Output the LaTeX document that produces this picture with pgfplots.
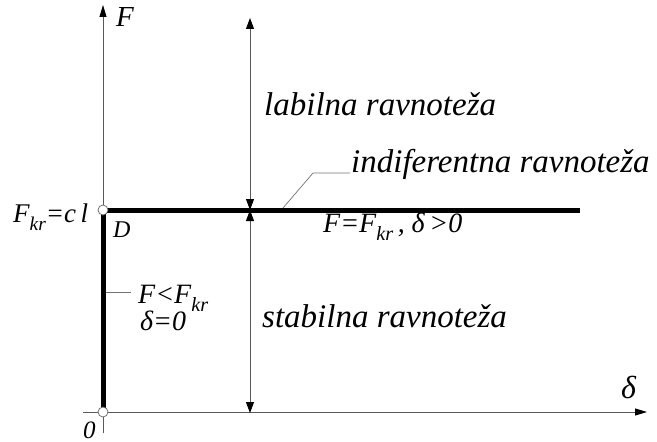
\documentclass[border=0pt]{standalone}
\usepackage{pgfplots}
\pgfplotsset{compat=1.18}
\usepackage{fontspec}
\setmainfont{Liberation Serif}
\usetikzlibrary{arrows.meta}
\newcommand{\sub}[1]{\raisebox{-0.3em}{\fontsize{0.72em}{1em}\selectfont #1}}
\begin{document}
\begin{tikzpicture}
\begin{axis}[width=657bp, height=442bp, scale only axis,
  xmin=0, xmax=657, ymin=0, ymax=442, y dir=reverse,
  hide axis, clip=false]
\addplot[draw=none] coordinates {(0,0) (657,442)};
% axes
\addplot[line width=0.9bp, black!65, -{Triangle[length=12bp,width=7bp,black]}] coordinates {(103,433) (103,5)};
\addplot[line width=0.9bp, black!65, -{Triangle[length=12bp,width=7bp,black]}] coordinates {(83,412) (647,412)};
% double arrows
\addplot[line width=0.8bp, black!65, {Triangle[length=11bp,width=8bp,black]}-{Triangle[length=11bp,width=8bp,black]}] coordinates {(250,18) (250,210)};
\addplot[line width=0.8bp, black!65, {Triangle[length=11bp,width=8bp,black]}-{Triangle[length=11bp,width=8bp,black]}] coordinates {(250,210) (250,413)};
% leaders
\addplot[line width=0.7bp, black!55] coordinates {(283,208) (313,173) (350,173)};
\addplot[line width=0.7bp, black!55] coordinates {(105,292) (131,292)};
% thick path
\addplot[line width=5bp, black, line join=miter, line cap=butt] coordinates {(103,412) (103,210) (580,210)};
% circles
\addplot[only marks, mark=*, mark size=5bp, mark options={fill=white, draw=black!60, line width=0.7bp}] coordinates {(103,412) (103,210)};
\end{axis}
\begin{axis}[width=657bp, height=442bp, scale only axis,
  xmin=0, xmax=657, ymin=0, ymax=442, y dir=reverse,
  hide axis, clip=false]
\addplot[draw=none] coordinates {(0,0) (657,442)};
\node[anchor=base west, inner sep=0pt, font=\fontsize{33bp}{38bp}\selectfont\itshape] at (axis cs:264,115) {labilna ravnoteža};
\node[anchor=base west, inner sep=0pt, font=\fontsize{33bp}{38bp}\selectfont\itshape] at (axis cs:351,172) {indiferentna ravnoteža};
\node[anchor=base west, inner sep=0pt, font=\fontsize{33bp}{38bp}\selectfont\itshape] at (axis cs:262,327) {stabilna ravnoteža};
\node[anchor=base west, inner sep=0pt, font=\fontsize{28bp}{30bp}\selectfont\itshape] at (axis cs:323,232) {F=F\sub{kr}\,, δ\,>0};
\node[anchor=base west, inner sep=0pt, font=\fontsize{28bp}{30bp}\selectfont\itshape] at (axis cs:138,303) {F<F\sub{kr}};
\node[anchor=base west, inner sep=0pt, font=\fontsize{28bp}{30bp}\selectfont\itshape] at (axis cs:140,330) {δ=0};
\node[anchor=base west, inner sep=0pt, font=\fontsize{27bp}{30bp}\selectfont\itshape] at (axis cs:13,222) {F\sub{kr}=c\,l};
\node[anchor=base west, inner sep=0pt, font=\fontsize{24bp}{30bp}\selectfont\itshape] at (axis cs:113,237) {D};
\node[anchor=base west, inner sep=0pt, font=\fontsize{25bp}{30bp}\selectfont\itshape] at (axis cs:83,438) {0};
\node[anchor=base west, inner sep=0pt, font=\fontsize{29bp}{30bp}\selectfont\itshape] at (axis cs:116,27) {F};
\node[anchor=base west, inner sep=0pt, font=\fontsize{32bp}{30bp}\selectfont\itshape] at (axis cs:621,398) {δ};
\end{axis}
\end{tikzpicture}
\end{document}
